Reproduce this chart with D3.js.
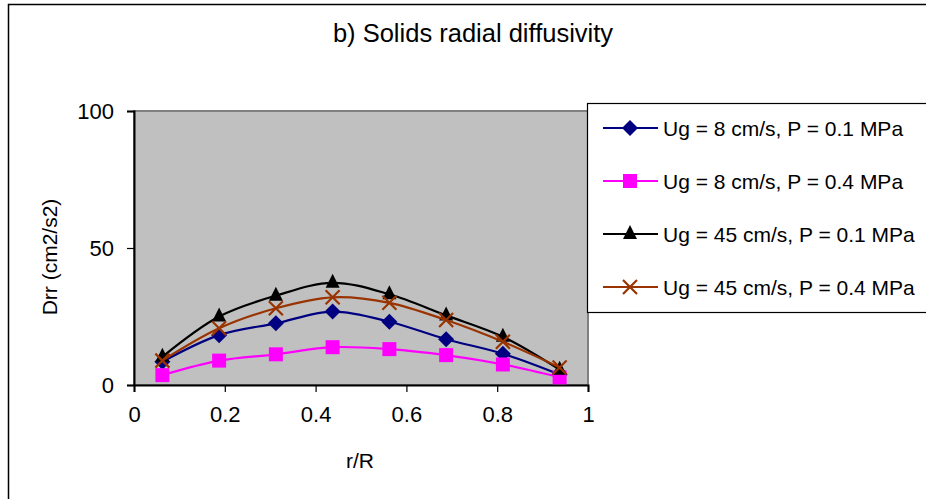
<!DOCTYPE html>
<html lang="en">
<head>
<meta charset="UTF-8">
<title>Solids radial diffusivity</title>
<style>
    * { margin: 0; padding: 0; }
    html, body { background: #fff; width: 926px; height: 499px; overflow: hidden; }
    svg { display: block; font-family: "Liberation Sans", Arial, sans-serif; }
</style>
</head>
<body>
<div id="chart"></div>
<script src="https://d3js.org/d3.v7.min.js"></script>
<script>
    // r/R positions (cell centres) and Drr values
    const rR = [0.0625, 0.1875, 0.3125, 0.4375, 0.5625, 0.6875, 0.8125, 0.9375];
    const ug8p01 = [8.5, 18.2, 22.5, 26.8, 23.1, 16.7, 11.4, 3.8];
    const ug8p04 = [3.6, 8.9, 11.2, 13.8, 13.1, 10.9, 7.5, 2.8];
    const ug45p01 = [10.3, 25.0, 32.6, 37.3, 33.1, 25.4, 17.6, 5.6];
    const ug45p04 = [8.9, 20.7, 28.0, 32.0, 30.0, 23.7, 15.8, 6.4];

    const seriesNames = [
        "Ug = 8 cm/s, P = 0.1 MPa",
        "Ug = 8 cm/s, P = 0.4 MPa",
        "Ug = 45 cm/s, P = 0.1 MPa",
        "Ug = 45 cm/s, P = 0.4 MPa"
    ];
    const xTicks = [0, 0.2, 0.4, 0.6, 0.8, 1];
    const yTicks = [0, 50, 100];

    const series = [
        { name: seriesNames[0], values: ug8p01, color: "#000080", marker: "diamond" },
        { name: seriesNames[1], values: ug8p04, color: "#ff00ff", marker: "square" },
        { name: seriesNames[2], values: ug45p01, color: "#000000", marker: "triangle" },
        { name: seriesNames[3], values: ug45p04, color: "#993300", marker: "cross" }
    ];

    const W = 926, H = 499;
    const plot = { left: 134, right: 588, top: 111, bottom: 385 };

    const svg = d3.select("#chart").append("svg")
        .attr("width", W)
        .attr("height", H);

    // outer chart frame (right/bottom edges fall outside the picture)
    svg.append("rect")
        .attr("x", 8.5).attr("y", 4.5)
        .attr("width", 1000).attr("height", 600)
        .attr("fill", "#fff")
        .attr("stroke", "#000")
        .attr("stroke-width", 1.5);

    const x = d3.scaleLinear().domain([0, 1]).range([plot.left, plot.right]);
    const y = d3.scaleLinear().domain([0, 100]).range([plot.bottom, plot.top]);

    // plot area
    svg.append("rect")
        .attr("x", plot.left).attr("y", plot.top)
        .attr("width", plot.right - plot.left)
        .attr("height", plot.bottom - plot.top)
        .attr("fill", "#c0c0c0")
        .attr("stroke", "#808080")
        .attr("stroke-width", 2);

    // title
    svg.append("text")
        .attr("x", 473).attr("y", 42)
        .attr("text-anchor", "middle")
        .attr("font-size", 25.5)
        .text("b) Solids radial diffusivity");

    // axes
    const xAxis = svg.append("g")
        .attr("transform", `translate(0,${plot.bottom})`)
        .call(d3.axisBottom(x).tickValues(xTicks).tickSize(7).tickPadding(14)
            .tickFormat(d3.format("~g")));
    const yAxis = svg.append("g")
        .attr("transform", `translate(${plot.left},0)`)
        .call(d3.axisLeft(y).tickValues(yTicks).tickSize(7).tickPadding(13));

    [xAxis, yAxis].forEach(g => {
        g.select(".domain").attr("stroke", "#000").attr("stroke-width", 2);
        g.selectAll(".tick line").attr("stroke", "#000").attr("stroke-width", 1.2);
        g.selectAll(".tick text")
            .attr("fill", "#000")
            .attr("font-family", "Liberation Sans, Arial, sans-serif")
            .attr("font-size", 22);
    });

    // axis titles
    svg.append("text")
        .attr("x", 360).attr("y", 468)
        .attr("text-anchor", "middle")
        .attr("font-size", 21)
        .text("r/R");
    svg.append("text")
        .attr("transform", "translate(57,257) rotate(-90)")
        .attr("text-anchor", "middle")
        .attr("font-size", 21)
        .text("Drr (cm2/s2)");

    const line = d3.line()
        .x((d, i) => x(rR[i]))
        .y(d => y(d))
        .curve(d3.curveCatmullRom.alpha(0.5));

    function drawMarker(g, type, color, cx, cy) {
        if (type === "diamond") {
            g.append("path")
                .attr("d", `M${cx},${cy - 8}L${cx + 8},${cy}L${cx},${cy + 8}L${cx - 8},${cy}Z`)
                .attr("fill", color);
        } else if (type === "square") {
            g.append("rect")
                .attr("x", cx - 7).attr("y", cy - 7)
                .attr("width", 14).attr("height", 14)
                .attr("fill", color);
        } else if (type === "triangle") {
            g.append("path")
                .attr("d", `M${cx},${cy - 9}L${cx + 7},${cy + 5}L${cx - 7},${cy + 5}Z`)
                .attr("fill", color);
        } else {
            g.append("path")
                .attr("d", `M${cx - 7},${cy - 7}L${cx + 7},${cy + 7}M${cx + 7},${cy - 7}L${cx - 7},${cy + 7}`)
                .attr("stroke", color)
                .attr("stroke-width", 2.2)
                .attr("fill", "none");
        }
    }

    series.forEach(s => {
        const g = svg.append("g");
        g.append("path")
            .datum(s.values)
            .attr("d", line)
            .attr("fill", "none")
            .attr("stroke", s.color)
            .attr("stroke-width", 2.2);
        s.values.forEach((v, i) => drawMarker(g, s.marker, s.color, x(rR[i]), y(v)));
    });

    // legend
    const legend = svg.append("g");
    legend.append("rect")
        .attr("x", 587.5).attr("y", 103.5)
        .attr("width", 400).attr("height", 209)
        .attr("fill", "#fff")
        .attr("stroke", "#000")
        .attr("stroke-width", 1.2);

    series.forEach((s, i) => {
        const ly = 128 + i * 53;
        legend.append("line")
            .attr("x1", 603).attr("x2", 658)
            .attr("y1", ly).attr("y2", ly)
            .attr("stroke", s.color)
            .attr("stroke-width", 2.2);
        drawMarker(legend, s.marker, s.color, 630, ly);
        legend.append("text")
            .attr("x", 663).attr("y", ly + 7.5)
            .attr("font-size", 21)
            .text(s.name);
    });
</script>
</body>
</html>
